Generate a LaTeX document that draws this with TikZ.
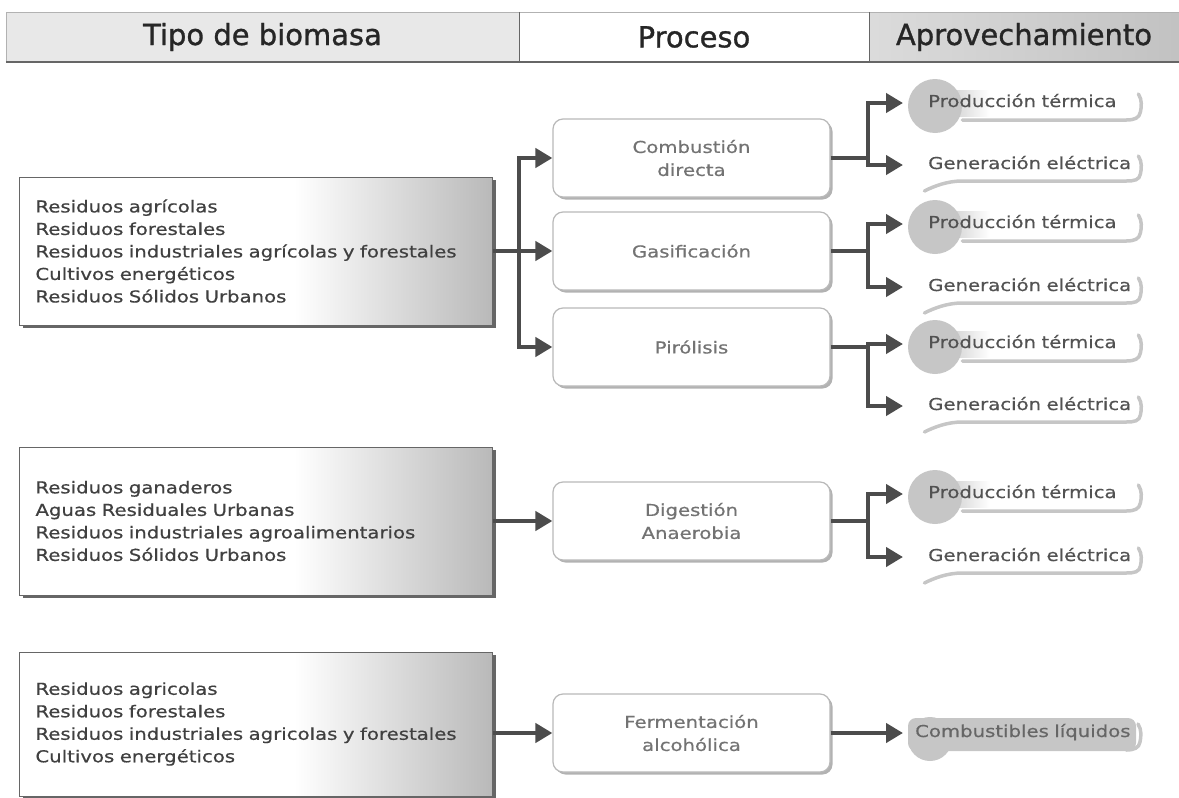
\documentclass[tikz,border=0pt]{standalone}
\usepackage{fontspec}
\setmainfont{DejaVu Sans}[FakeStretch=1.2, FakeBold=0.6]
\newfontfamily\headfont{DejaVu Sans}[FakeBold=1]
\usepackage{tikz}
\usetikzlibrary{arrows.meta,shadows}

\pgfdeclarehorizontalshading{biofade}{100bp}{color(0bp)=(white); color(25bp)=(white); color(54bp)=(white); color(75bp)=(gray!55); color(100bp)=(gray!55)}

\tikzset{
  cabecera/.style={draw=gray!60, minimum height=50pt, inner sep=0pt, font=\headfont\fontsize{29}{32}\selectfont, text=black!85},
  biomasa/.style={draw=black!60, line width=0.8pt, shading=biofade, drop shadow={shadow xshift=3pt, shadow yshift=-3pt, fill=black!60, opacity=1}, minimum width=473pt, minimum height=148pt, text width=441pt, align=left, inner xsep=16pt, font=\fontsize{16.4}{22.5}\selectfont, text=black!75},
  proceso/.style={draw=gray!55, line width=1.2pt, fill=white, rounded corners=10pt, drop shadow={shadow xshift=2.5pt, shadow yshift=-2.5pt, fill=gray!60, opacity=1}, minimum width=277pt, minimum height=78pt, align=center, font=\fontsize{16.4}{23}\selectfont, text=black!55},
  salida/.style={anchor=west, text width=224pt, align=left, inner xsep=0pt, inner ysep=0pt, text height=12pt, text depth=4pt, font=\fontsize{16.4}{20}\selectfont, text=black!68},
  linea/.style={draw=black!70, line width=4.5pt},
  flecha/.style={linea, -{Triangle[length=17pt, width=19pt]}},
  adorno/.style={draw=gray!45, line width=3.5pt, line cap=round},
}

\begin{document}
\begin{tikzpicture}[x=1pt,y=-1pt]
\useasboundingbox (0,0) rectangle (1179,798);

% cabecera
\node[cabecera, fill=gray!18, minimum width=513pt] (hbio) at (262.5,37) {Tipo de biomasa};
\node[cabecera, fill=white, minimum width=350pt] (hproc) at (694,37) {Proceso};
\node[cabecera, left color=gray!28, right color=gray!48, minimum width=310pt] (hapro) at (1024,37) {Aprovechamiento};
\draw[black!60, line width=1.5pt] (hbio.south west) -- (hapro.south east);
\draw[black!60] (hproc.north west) -- (hproc.south west) (hproc.north east) -- (hproc.south east);

% tipos de biomasa
\node[biomasa] (src1) at (256,251) {Residuos agrícolas\\Residuos forestales\\Residuos industriales agrícolas y forestales\\Cultivos energéticos\\Residuos Sólidos Urbanos};
\node[biomasa] (src2) at (256,521) {Residuos ganaderos\\Aguas Residuales Urbanas\\Residuos industriales agroalimentarios\\Residuos Sólidos Urbanos};
\node[biomasa, minimum height=144pt] (src3) at (256,724) {Residuos agricolas\\Residuos forestales\\Residuos industriales agricolas y forestales\\Cultivos energéticos};

% procesos
\node[proceso] (comb) at (691.5,158) {Combustión\\directa};
\node[proceso] (gas) at (691.5,251) {Gasificación};
\node[proceso] (pir) at (691.5,347) {Pirólisis};
\node[proceso] (dig) at (691.5,521) {Digestión\\Anaerobia};
\node[proceso] (fer) at (691.5,733) {Fermentación\\alcohólica};

% manchas detras de las salidas
\foreach \y in {103,224,344,494}
{
  \shade[left color=gray!45, right color=white] (940,\y-13) rectangle (990,\y+13);
  \fill[gray!45] (935,\y+3) circle (27pt);
}
\fill[gray!45, rounded corners=8pt] (908,718) rectangle (1136,751);
\fill[gray!45] (930,739) circle (22pt);

% aprovechamiento
\foreach \n/\y in {1/103,2/224,3/344,4/494}
  \node[salida] (pt\n) at (928,\y) {Producción térmica};
\foreach \n/\y in {1/165,2/287,3/406,4/557}
  \node[salida] (ge\n) at (928,\y) {Generación eléctrica};
\node[salida, text=black!60] (cl) at (915,733) {Combustibles líquidos};

\foreach \o in {pt1,pt2,pt3,pt4}
  \draw[adorno, shift={(\o.east)}] (-14,-9) .. controls (-10,-3) and (-11,4) .. (-12,9) .. controls (-13,15) and (-18,17) .. (-26,17) -- (-190,17);
\foreach \o in {ge1,ge2,ge3,ge4}
  \draw[adorno, shift={(\o.east)}] (-14,-9) .. controls (-10,-3) and (-11,4) .. (-12,9) .. controls (-13,15) and (-18,16) .. (-26,16) -- (-190,16) .. controls (-205,16) and (-218,21) .. (-228,26);
\draw[adorno, shift={(1152,0 |- cl.east)}] (-14,-9) .. controls (-10,-3) and (-11,4) .. (-12,9) .. controls (-13,15) and (-18,17) .. (-26,17);

% conexiones
\coordinate (j1) at (519,251);
\draw[linea] (src1.east) -- (j1);
\foreach \p in {comb,gas,pir}
  \draw[flecha] (j1) |- (\p.west);
\draw[flecha] (src2.east) -- (dig.west);
\draw[flecha] (src3.east |- fer.west) -- (fer.west);

\foreach \p/\n in {comb/1,gas/2,pir/3,dig/4}
{
  \coordinate (k\n) at (868,0 |- \p.east);
  \draw[linea] (\p.east) -- (k\n);
  \draw[flecha] (k\n) |- ([xshift=-25pt]pt\n.west);
  \draw[flecha] (k\n) |- ([xshift=-25pt]ge\n.west);
}
\draw[flecha] (fer.east) -- ([xshift=-12pt]cl.west);
\end{tikzpicture}
\end{document}
